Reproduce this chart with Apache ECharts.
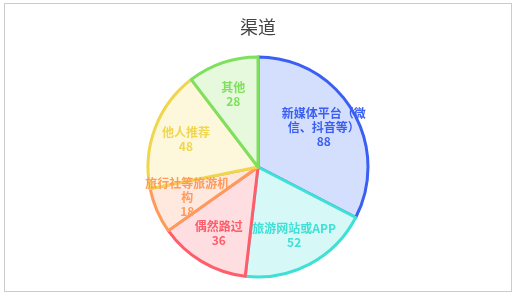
<!DOCTYPE html>
<html>
<head>
<meta charset="utf-8">
<script src="https://cdn.jsdelivr.net/npm/echarts@6/dist/echarts.min.js"></script>
<style>
    html,body{margin:0;padding:0;background:#fff;}
    #chart{position:absolute;left:4px;top:3px;width:506px;height:287px;border:1px solid #ccc;}
</style>
</head>
<body>
<div id="chart"></div>
<script>
    // 渠道分布
    var names = ['新媒体平台（微信、抖音等）','旅游网站或APP','偶然路过','旅行社等旅游机构','他人推荐','其他'];
    var values = [88,52,36,18,48,28];
    var lineColors = ['#3a5ff2','#3fe0d6','#ff5d6c','#ff9a5c','#f0d64c','#7ee05c'];
    var fillColors = ['#d4defd','#d6f9f7','#ffdee1','#ffe9df','#fdf8dc','#e6f9dd'];

    var chart = echarts.init(document.getElementById('chart'));
    // 扇区
    var data = names.map(function(n,i){
        return {
            name:n,
            value:values[i],
            itemStyle:{color:fillColors[i],borderColor:lineColors[i]}
        };
    });
    // 标签（透明的大饼，只用来放文字）
    var labelData = names.map(function(n,i){
        return {
            name:n,
            value:values[i],
            label:{color:lineColors[i]}
        };
    });
    chart.setOption({
        animation:false,
        title:{
            text:'渠道',
            left:'center',
            top:9,
            textStyle:{fontSize:18,fontWeight:'normal',color:'#444',fontFamily:'Noto Sans CJK SC'}
        },
        series:[{
            type:'pie',
            center:['50%',163],
            radius:[0,110],
            startAngle:90,
            silent:true,
            avoidLabelOverlap:false,
            itemStyle:{borderWidth:3},
            label:{show:false},
            labelLine:{show:false},
            data:data
        },{
            type:'pie',
            center:['50%',163],
            radius:[0,148],
            startAngle:90,
            silent:true,
            avoidLabelOverlap:false,
            labelLayout:{hideOverlap:false},
            z:3,
            itemStyle:{color:'transparent',borderWidth:0},
            label:{
                position:'inside',
                formatter:'{b}\n{c}',
                fontSize:12,
                fontWeight:'bold',
                lineHeight:14,
                width:88,
                overflow:'break',
                fontFamily:'Noto Sans CJK SC'
            },
            labelLine:{show:false},
            data:labelData
        }]
    });
</script>
</body>
</html>
